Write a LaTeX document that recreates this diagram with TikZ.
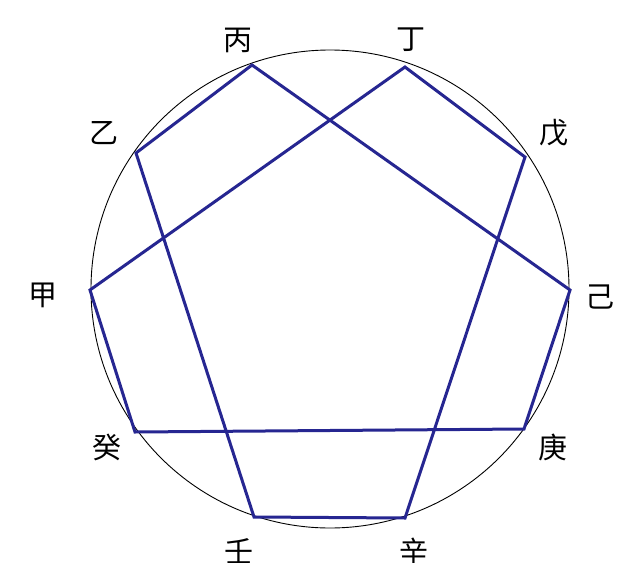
\documentclass[tikz,border=0pt]{standalone}
\usepackage{fontspec}
\newfontfamily\cjk{Noto Sans CJK SC}
\definecolor{navy}{RGB}{38,38,145}
\begin{document}
\begin{tikzpicture}[x=1pt,y=-1pt,
  lbl/.style={font=\cjk\fontsize{29}{30}\selectfont, inner sep=0pt},
  star/.style={draw=navy, line width=3pt, line join=miter}]
\useasboundingbox (0,0) rectangle (633,563);
\fill[white] (0,0) rectangle (633,563);
\node[draw=black, line width=0.9pt, circle, minimum size=478pt, inner sep=0pt] (c) at (330,289) {};
\coordinate (jia) at (90,290);
\coordinate (yi) at (136,153);
\coordinate (bing) at (252,65);
\coordinate (ding) at (405,67);
\coordinate (wu) at (525,157);
\coordinate (ji) at (570,290);
\coordinate (geng) at (524,429);
\coordinate (xin) at (405,518);
\coordinate (ren) at (254,517);
\coordinate (gui) at (135,432);
\draw[star] (jia) -- (ding) -- (wu) -- (xin) -- (ren) -- (yi) -- (bing) -- (ji) -- (geng) -- (gui) -- cycle;
\node[lbl] (tjia) at (43,295) {甲};
\node[lbl] (tyi) at (104,133) {乙};
\node[lbl] (tbing) at (238,40) {丙};
\node[lbl] (tding) at (411,40) {丁};
\node[lbl] (twu) at (554,133) {戊};
\node[lbl] (tji) at (600,297) {己};
\node[lbl] (tgeng) at (553,447) {庚};
\node[lbl] (txin) at (414,551) {辛};
\node[lbl] (tren) at (239,551) {壬};
\node[lbl] (tgui) at (107,447) {癸};
\end{tikzpicture}
\end{document}
